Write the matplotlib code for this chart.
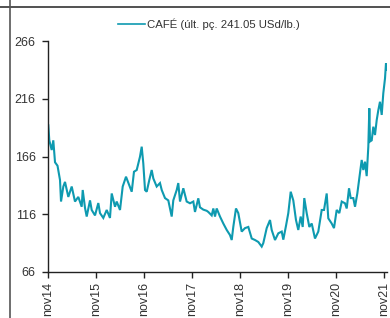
import matplotlib
matplotlib.use("Agg")
import matplotlib.pyplot as plt
from matplotlib.lines import Line2D

plt.rcParams['font.family'] = ['Liberation Sans', 'DejaVu Sans']

# time in decimal years, coffee price (USd/lb)
years = [2014.833, 2014.854, 2014.904, 2014.937, 2014.973, 2015.025, 2015.077, 2015.098,
         2015.146, 2015.181, 2015.250, 2015.321, 2015.389, 2015.458, 2015.529, 2015.550,
         2015.598, 2015.633, 2015.702, 2015.737, 2015.806, 2015.875, 2015.910, 2015.979,
         2016.050, 2016.118, 2016.154, 2016.223, 2016.258, 2016.327, 2016.383, 2016.452,
         2016.521, 2016.571, 2016.618, 2016.675, 2016.708, 2016.743, 2016.779, 2016.812,
         2016.848, 2016.883, 2016.937, 2016.987, 2017.021, 2017.091, 2017.160, 2017.196,
         2017.264, 2017.333, 2017.404, 2017.437, 2017.508, 2017.541, 2017.577, 2017.646,
         2017.716, 2017.785, 2017.854, 2017.889, 2017.958, 2017.993, 2018.062, 2018.133,
         2018.166, 2018.237, 2018.271, 2018.306, 2018.341, 2018.410, 2018.479, 2018.550,
         2018.618, 2018.654, 2018.687, 2018.743, 2018.791, 2018.862, 2018.931, 2019.000,
         2019.071, 2019.139, 2019.208, 2019.279, 2019.312, 2019.383, 2019.452, 2019.487,
         2019.556, 2019.625, 2019.696, 2019.729, 2019.785, 2019.833, 2019.883, 2019.937,
         2019.993, 2020.041, 2020.091, 2020.133, 2020.166, 2020.216, 2020.271, 2020.321,
         2020.389, 2020.458, 2020.529, 2020.577, 2020.633, 2020.666, 2020.737, 2020.785,
         2020.841, 2020.896, 2020.946, 2021.014, 2021.050, 2021.098, 2021.133, 2021.187,
         2021.223, 2021.271, 2021.327, 2021.362, 2021.396, 2021.431, 2021.466, 2021.500,
         2021.521, 2021.535, 2021.571, 2021.604, 2021.639, 2021.675, 2021.708, 2021.743,
         2021.779, 2021.812, 2021.848, 2021.868, 2021.883]
prices = [193, 180, 171.6, 180, 161, 158, 145.6, 127,
          140, 144, 131, 140, 127, 131, 122.5, 137,
          121.4, 114, 128, 119.7, 115, 125.7, 117, 112.8,
          119.7, 112.8, 134, 122.5, 127, 119.7, 140, 148.5,
          141, 135.5, 152.8, 154.3, 160, 165.8, 174.5, 160,
          137, 135.5, 145.6, 154.3, 147, 140, 143, 137,
          130, 128, 114, 128, 137, 143, 127, 138.5,
          127, 125.5, 127, 118, 129.8, 122, 120, 119,
          118, 115, 121, 114, 121, 114, 108, 102.4,
          98, 93.7, 105, 121, 117, 101, 104, 105,
          95, 93.7, 92, 88, 91, 104, 111, 102.4,
          93.7, 99.5, 101, 94, 106, 117, 135.5, 128,
          111, 102.4, 114, 105, 130, 117, 105, 108,
          95, 101, 119.7, 119.7, 134, 112.5, 108, 104,
          119.7, 117, 127, 125.5, 121, 138.5, 130, 130,
          122.5, 134, 151.5, 163, 154.3, 161.5, 149, 174.5,
          207.7, 179, 180, 191.8, 184.6, 197.6, 206, 213.4,
          202, 220.7, 233.7, 246.7, 241.05]

y_ticks = [66, 116, 166, 216, 266]
x_tick_pos = [2014.833, 2015.833, 2016.833, 2017.833, 2018.833, 2019.833, 2020.833, 2021.833]
x_tick_labels = ['nov14', 'nov15', 'nov16', 'nov17', 'nov18', 'nov19', 'nov20', 'nov21']
legend_label = 'CAFÉ (últ. pç. 241.05 USd/lb.)'

W, H = 390, 318
fig = plt.figure(figsize=(W / 100, H / 100), dpi=100)
ax = fig.add_axes([48.3 / W, (H - 272) / H, (387 - 48.3) / W, (272 - 41) / H])

line_color = '#0e9ab0'
ax.plot(years, prices, color=line_color, lw=1.5, solid_joinstyle='miter')

ax.set_xlim(2014.833, 2014.833 + (387 - 48.3) / 48.0)
ax.set_ylim(66, 266)
ax.set_yticks(y_ticks)
ax.set_yticklabels([str(v) for v in y_ticks])
ax.set_xticks(x_tick_pos)
ax.set_xticklabels(x_tick_labels, rotation=90)

for s in ['top', 'right']:
    ax.spines[s].set_visible(False)
for s in ['left', 'bottom']:
    ax.spines[s].set_color('#222222')
    ax.spines[s].set_linewidth(1.0)
ax.tick_params(axis='both', direction='out', length=4, width=1.0, color='#222222',
               labelsize=9, labelcolor='#333333', pad=3)
ax.tick_params(axis='y', pad=5)

# legend
fig.add_artist(Line2D([118 / W, 145 / W], [(H - 24) / H, (H - 24) / H],
                      color=line_color, lw=1.2))
fig.text(147 / W, (H - 24) / H, legend_label, fontsize=8.2, color='#333333',
         ha='left', va='center')

# frame lines of the surrounding table
fig.add_artist(Line2D([0, 1], [(H - 6.7) / H, (H - 6.7) / H], color='#333333', lw=1.2))
fig.add_artist(Line2D([10 / W, 10 / W], [0, 1], color='#555555', lw=1.2))

fig.savefig('out.png', dpi=100)
